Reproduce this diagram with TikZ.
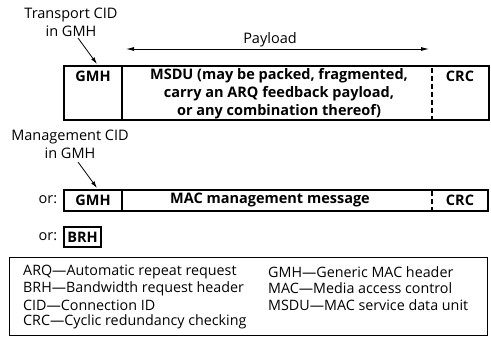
\documentclass[tikz,border=0pt]{standalone}
\usepackage{fontspec}
\setmainfont{Open Sans}
\usetikzlibrary{arrows.meta}
\begin{document}
\begin{tikzpicture}[x=1pt,y=-1pt,
  boxline/.style={line width=1.1pt,black},
  dashline/.style={line width=1.1pt,dash pattern=on 5pt off 3pt},
  lbl/.style={font=\fontsize{14.5}{18}\selectfont,inner sep=0pt,align=center},
  txt/.style={font=\fontsize{14.5}{18}\selectfont\bfseries,inner sep=0pt},
  leg/.style={font=\fontsize{14.3}{15}\selectfont,inner sep=0pt,anchor=west},
  arr/.style={line width=0.8pt,-{Latex[length=7pt,width=4pt]}}]
\useasboundingbox (0,0) rectangle (491,337);
% labels
\node[lbl] (tcid) at (71,22) {Transport CID\\in GMH};
\node[lbl] (mcid) at (70,144) {Management CID\\in GMH};
\coordinate (a1s) at (78,38);
\coordinate (a1e) at (97,64);
\draw[arr] (a1s) -- (a1e);
\coordinate (a2s) at (78,162);
\coordinate (a2e) at (97,188);
\draw[arr] (a2s) -- (a2e);
% payload
\coordinate (pl) at (126,49);
\coordinate (pr) at (429,49);
\draw[line width=0.8pt,{Latex[length=8pt,width=4pt]}-{Latex[length=8pt,width=4pt]}] (pl) -- (pr);
\node[lbl] (payload) at (270,40) {Payload};
% top box
\draw[boxline] (64,66) rectangle (489,120);
\draw[boxline] (122,66) -- (122,120);
\draw[dashline] (432,68) -- (432,120);
\node[txt] (g1) at (93,76) {GMH};
\node[txt,align=center] (msdu) at (279,94) {MSDU (may be packed, fragmented,\\carry an ARQ feedback payload,\\or any combination thereof)};
\node[txt] (c1) at (460,76) {CRC};
% management box
\node[lbl] (or1) at (48,200) {or:};
\draw[boxline] (64,190) rectangle (488,211);
\draw[boxline] (122,190) -- (122,211);
\draw[dashline] (432,191) -- (432,211);
\node[txt] (g2) at (93,200) {GMH};
\node[txt] (mm) at (270,200) {MAC management message};
\node[txt] (c2) at (460,200) {CRC};
% BRH
\node[lbl] (or2) at (48,237) {or:};
\draw[boxline] (64,227) rectangle (101,247);
\node[txt] (brh) at (82.5,237) {BRH};
% legend
\draw[line width=0.8pt] (9,257) rectangle (487,335);
\node[leg] (l1) at (23,272) {ARQ—Automatic repeat request};
\node[leg] (l2) at (23,288.5) {BRH—Bandwidth request header};
\node[leg] (l3) at (23,305) {CID—Connection ID};
\node[leg] (l4) at (23,321.5) {CRC—Cyclic redundancy checking};
\node[leg] (r1) at (268,272) {GMH—Generic MAC header};
\node[leg] (r2) at (268,288.5) {MAC—Media access control};
\node[leg] (r3) at (268,305) {MSDU—MAC service data unit};
\end{tikzpicture}
\end{document}
